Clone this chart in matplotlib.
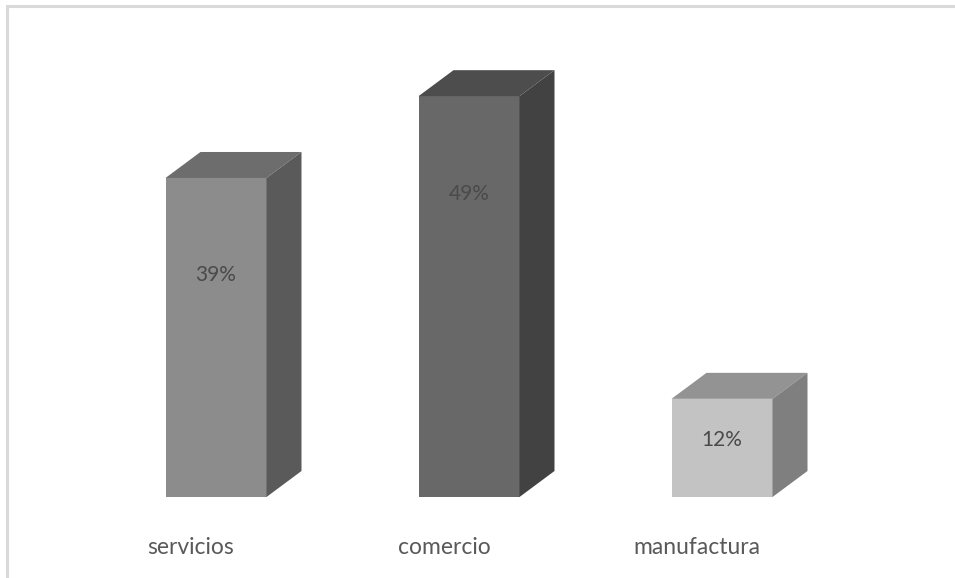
import numpy as np
import matplotlib.pyplot as plt
from matplotlib.patches import Rectangle

# Datos
sectores = ['servicios', 'comercio', 'manufactura']
porcentajes = [39, 49, 12]

# colores: cara frontal, cara superior, cara lateral
frente = ['#8c8c8c', '#686868', '#c3c3c3']
arriba = ['#6d6d6d', '#4d4d4d', '#939393']
lado = ['#5a5a5a', '#424242', '#7f7f7f']

W, H = 955, 578
fig = plt.figure(figsize=(W / 100, H / 100), dpi=100)
fig.patch.set_facecolor('white')

# ejes: y=0 en el pixel 497, 8.18 px por punto porcentual
px_pct = 8.18
y0 = 497
ax = fig.add_axes([0, (H - y0) / H, 1, (y0 - 6) / H])
ymax = (y0 - 6) / px_pct
ax.set_ylim(0, ymax)
unit = 253.0
ax.set_xlim(-216 / unit, (W - 216) / unit)
ax.axis('off')

ancho = 101 / unit
dx = 35 / unit
dy = 26 / px_pct

for i, v in enumerate(porcentajes):
    x0 = i - ancho / 2
    x1 = i + ancho / 2
    # cara frontal
    ax.fill([x0, x1, x1, x0], [0, 0, v, v], color=frente[i], lw=0)
    # cara superior
    ax.fill([x0, x1, x1 + dx, x0 + dx], [v, v, v + dy, v + dy],
            color=arriba[i], lw=0)
    # cara lateral
    ax.fill([x1, x1 + dx, x1 + dx, x1], [0, dy, v + dy, v],
            color=lado[i], lw=0)
    # etiqueta de valor
    ty = v - 11.9 if v > 20 else v * 0.58
    ax.text(i, ty, f'{v}%', ha='center', va='center', fontsize=15,
            color='#4a4a4a', family='Lato')
    # etiqueta de categoria
    ax.text(i - 25 / unit, -51 / px_pct, sectores[i], ha='center',
            va='center', fontsize=16.5, color='#595959', family='Lato')

# marco del grafico
fig.patches.append(Rectangle((7 / W, -0.1), 1.2, (H - 6) / H + 0.1,
                             transform=fig.transFigure, fill=False,
                             edgecolor='#d9d9d9', lw=2.2))

fig.savefig('out.png', dpi=100)
